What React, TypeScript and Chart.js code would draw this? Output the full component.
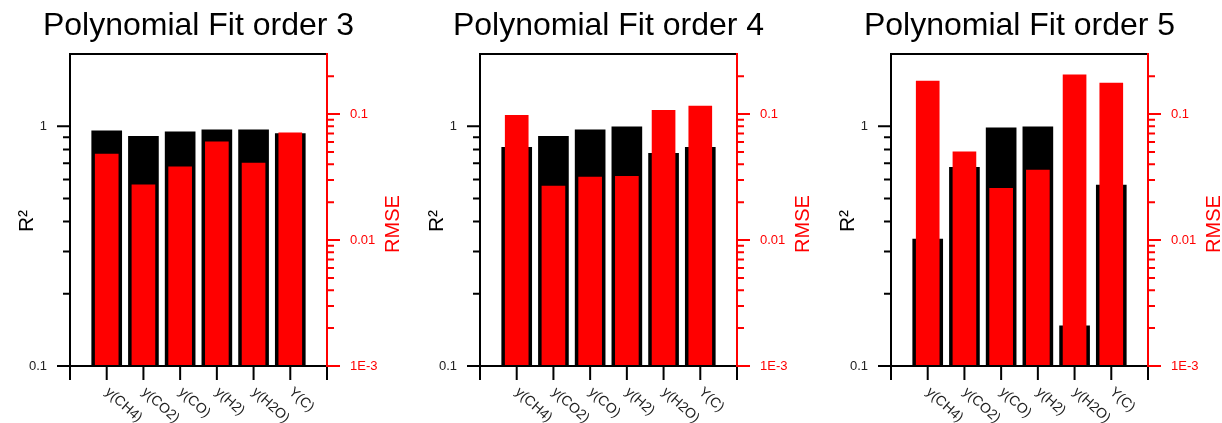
import React, { useEffect, useRef } from 'react';
import { Chart, registerables } from 'chart.js';

Chart.register(...registerables);

// ---------------- data ----------------
const categories = ['y(CH4)', 'y(CO2)', 'y(CO)', 'y(H2)', 'y(H2O)', 'Y(C)'];
const panelTitles = ['Polynomial Fit order 3', 'Polynomial Fit order 4', 'Polynomial Fit order 5'];

const r2Order3 = [0.956, 0.908, 0.947, 0.965, 0.965, 0.932];
const r2Order4 = [0.817, 0.908, 0.965, 0.994, 0.771, 0.817];
const r2Order5 = [0.338, 0.674, 0.984, 0.994, 0.147, 0.568];

const rmseOrder3 = [0.0482, 0.0274, 0.0382, 0.0603, 0.0408, 0.0711];
const rmseOrder4 = [0.0976, 0.0268, 0.0316, 0.032, 0.107, 0.116];
const rmseOrder5 = [0.183, 0.0502, 0.0257, 0.0359, 0.205, 0.176];

const r2Range = [0.1, 2];
const rmseRange = [0.001, 0.3];
const r2MajorTicks = [0.1, 1];
const r2MinorTicks = [0.2, 0.3, 0.4, 0.5, 0.6, 0.7, 0.8, 0.9];
const rmseMajorTicks = [0.001, 0.01, 0.1];
const rmseMinorTicks = [
  0.002, 0.003, 0.004, 0.005, 0.006, 0.007, 0.008, 0.009,
  0.02, 0.03, 0.04, 0.05, 0.06, 0.07, 0.08, 0.09, 0.2,
];

// ---------------- style ----------------
const FONT = '"Liberation Sans", Arial, Helvetica, sans-serif';
const RED = '#ff0000';
const BLACK = '#000000';
const TEXT = '#222222';
const H = 423;
const PLOT_LEFT = 70;
const PLOT_RIGHT = 327;
const PLOT_TOP = 54;
const PLOT_BOTTOM = 366;

function fmtTick(v: number): string {
  if (v < 0.01) return v.toExponential(0).toUpperCase();
  return String(v);
}

function makeDecor(title: string) {
  return {
    id: 'panelDecor',
    afterDraw(chart: any) {
      const ctx: CanvasRenderingContext2D = chart.ctx;
      const { left, right, top, bottom } = chart.chartArea;
      const yS = chart.scales.y;
      const y1S = chart.scales.y1;
      const xS = chart.scales.x;
      const line = (x1: number, y1: number, x2: number, y2: number) => {
        ctx.moveTo(x1, y1);
        ctx.lineTo(x2, y2);
      };
      ctx.save();
      ctx.lineWidth = 2;
      ctx.lineCap = 'butt';

      // black frame + left axis ticks + x ticks
      ctx.strokeStyle = BLACK;
      ctx.beginPath();
      line(left, top, right, top);
      line(left, top - 1, left, bottom + 1);
      line(left, bottom, right, bottom);
      r2MajorTicks.forEach((v) => {
        const y = yS.getPixelForValue(v);
        line(left - 13, y, left, y);
      });
      r2MinorTicks.forEach((v) => {
        const y = yS.getPixelForValue(v);
        line(left - 7, y, left, y);
      });
      for (let i = 0; i < xS.ticks.length; i++) {
        const x = xS.getPixelForTick(i);
        line(x, bottom, x, bottom + 14);
      }
      ctx.stroke();

      // red right axis
      ctx.strokeStyle = RED;
      ctx.beginPath();
      line(right, top - 1, right, bottom + 1);
      rmseMajorTicks.forEach((v) => {
        const y = y1S.getPixelForValue(v);
        line(right, y, right + 13, y);
      });
      rmseMinorTicks.forEach((v) => {
        const y = y1S.getPixelForValue(v);
        line(right, y, right + 7, y);
      });
      ctx.stroke();

      // title
      ctx.fillStyle = BLACK;
      ctx.font = `32px ${FONT}`;
      ctx.textAlign = 'center';
      ctx.textBaseline = 'alphabetic';
      ctx.fillText(title, (left + right) / 2, 35);

      // axis titles
      ctx.save();
      ctx.translate(33, (top + bottom) / 2 + 11);
      ctx.rotate(-Math.PI / 2);
      ctx.font = `21px ${FONT}`;
      ctx.fillStyle = BLACK;
      ctx.textAlign = 'center';
      ctx.fillText('R²', 0, 0);
      ctx.restore();

      ctx.save();
      ctx.translate(right + 72, (top + bottom) / 2 + 14);
      ctx.rotate(-Math.PI / 2);
      ctx.font = `20px ${FONT}`;
      ctx.fillStyle = RED;
      ctx.textAlign = 'center';
      ctx.fillText('RMSE', 0, 0);
      ctx.restore();

      // rotated category labels
      const labels: string[] = chart.data.labels;
      ctx.font = `14px ${FONT}`;
      ctx.fillStyle = TEXT;
      ctx.textAlign = 'left';
      ctx.textBaseline = 'top';
      labels.forEach((lab, i) => {
        if (!lab) return;
        const x = xS.getPixelForTick(i);
        ctx.save();
        ctx.translate(x + 5, bottom + 19);
        ctx.rotate((42 * Math.PI) / 180);
        ctx.fillText(lab, 0, 0);
        ctx.restore();
      });

      ctx.restore();
    },
  };
}

type PanelProps = { title: string; r2: number[]; rmse: number[]; x: number; width: number };

function Panel({ title, r2, rmse, x, width }: PanelProps) {
  const ref = useRef<HTMLCanvasElement | null>(null);
  useEffect(() => {
    if (!ref.current) return;
    const labels = ['', ...categories, ''];
    const chart = new Chart(ref.current, {
      type: 'bar',
      data: {
        labels,
        datasets: [
          {
            label: 'RMSE',
            data: [null, ...rmse, null],
            yAxisID: 'y1',
            backgroundColor: RED,
            barThickness: 23,
            grouped: false,
            order: 0,
          },
          {
            label: 'R2',
            data: [null, ...r2, null],
            yAxisID: 'y',
            backgroundColor: BLACK,
            barThickness: 30,
            grouped: false,
            order: 1,
          },
        ],
      },
      options: {
        responsive: false,
        animation: false,
        events: [],
        devicePixelRatio: 1,
        layout: { padding: { top: PLOT_TOP, left: 0, right: 0, bottom: 0 } },
        plugins: { legend: { display: false }, tooltip: { enabled: false }, title: { display: false } },
        scales: {
          x: {
            type: 'category',
            offset: false,
            grid: { display: false, drawTicks: false },
            border: { display: false },
            ticks: { display: false },
            afterFit: (s: any) => {
              s.height = H - PLOT_BOTTOM;
            },
          },
          y: {
            type: 'logarithmic',
            position: 'left',
            min: r2Range[0],
            max: r2Range[1],
            grid: { display: false, drawTicks: false },
            border: { display: false },
            afterBuildTicks: (s: any) => {
              s.ticks = r2MajorTicks.map((v) => ({ value: v }));
            },
            ticks: {
              autoSkip: false,
              padding: 23,
              color: TEXT,
              font: { family: FONT, size: 13 },
              callback: (v: any) => fmtTick(Number(v)),
            },
            afterFit: (s: any) => {
              s.width = PLOT_LEFT;
            },
          },
          y1: {
            type: 'logarithmic',
            position: 'right',
            min: rmseRange[0],
            max: rmseRange[1],
            grid: { display: false, drawTicks: false },
            border: { display: false },
            afterBuildTicks: (s: any) => {
              s.ticks = rmseMajorTicks.map((v) => ({ value: v }));
            },
            ticks: {
              autoSkip: false,
              padding: 23,
              color: RED,
              font: { family: FONT, size: 13 },
              callback: (v: any) => fmtTick(Number(v)),
            },
            afterFit: (s: any) => {
              s.width = width - PLOT_RIGHT;
            },
          },
        },
      } as any,
      plugins: [makeDecor(title)],
    });
    return () => chart.destroy();
  }, [title, r2, rmse, width]);

  return (
    <div style={{ position: 'absolute', left: x, top: 0, width, height: H }}>
      <canvas ref={ref} width={width} height={H} style={{ width, height: H, display: 'block' }} />
    </div>
  );
}

export default function App() {
  return (
    <div style={{ position: 'absolute', left: 0, top: 0, width: 1222, height: H, background: '#fff', overflow: 'hidden' }}>
      <Panel title={panelTitles[0]} r2={r2Order3} rmse={rmseOrder3} x={0} width={410} />
      <Panel title={panelTitles[1]} r2={r2Order4} rmse={rmseOrder4} x={410} width={410} />
      <Panel title={panelTitles[2]} r2={r2Order5} rmse={rmseOrder5} x={821} width={401} />
    </div>
  );
}
